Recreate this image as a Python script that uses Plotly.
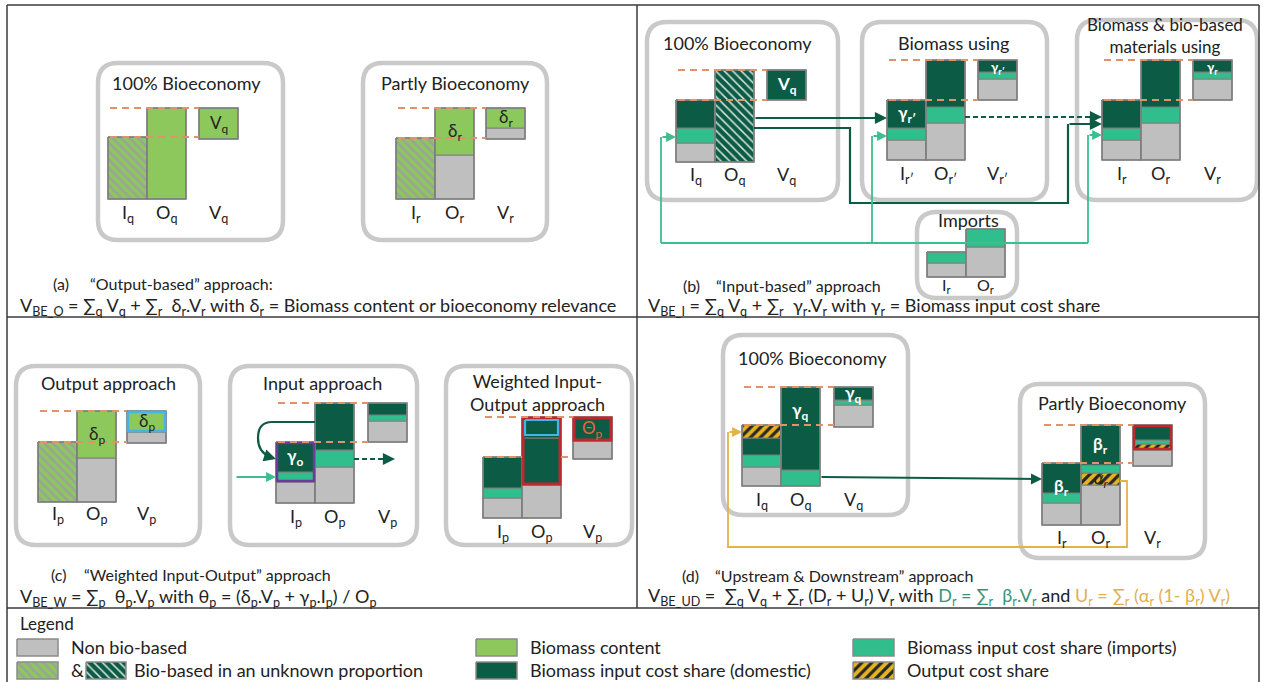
import plotly.graph_objects as go

W, H = 1263, 682
FONT = "Lato"
TXT = "#222222"

# ---------------- colours ----------------
C_GRAY = "#bfbfbf"
C_EDGE = "#7f7f7f"
C_GREEN = "#8dc85c"
C_DARK = "#0c5b44"
C_TEAL = "#30bf8c"
C_YEL = "#e6b41e"
C_DASH = "#e2926a"
C_BOX = "#c9c9c9"
C_FRAME = "#3a3a3a"
C_PURPLE = "#6a3d9a"
C_BLUE = "#45b4e6"
C_RED = "#c1272d"
C_TEAL_LINE = "#3cbf8f"
C_YEL_LINE = "#e2b447"

# ---------------- data: stacked segments (bottom -> top): (category, height) ----------------
# n = non bio-based, g = biomass content, d = input cost share (domestic),
# t = input cost share (imports), y = output cost share, hg/hd = unknown proportion
A1_I = [("hg", 62)]
A1_O = [("g", 91)]
A1_V = [("g", 31)]
A2_I = [("hg", 61)]
A2_O = [("n", 44), ("g", 47)]
A2_V = [("n", 11), ("g", 20)]

B1_I = [("n", 19), ("t", 15), ("d", 28)]
B1_O = [("hd", 92)]
B1_V = [("d", 30)]
B2_I = [("n", 20), ("t", 12), ("d", 28)]
B2_O = [("n", 37), ("t", 16), ("d", 47)]
B2_V = [("n", 21), ("t", 7), ("d", 12)]
B3_I = [("n", 20), ("t", 12), ("d", 28)]
B3_O = [("n", 37), ("t", 16), ("d", 47)]
B3_V = [("n", 21), ("t", 7), ("d", 12)]
IM_I = [("n", 14), ("t", 11)]
IM_O = [("n", 30), ("t", 18)]

C1_I = [("hg", 60)]
C1_O = [("n", 44), ("g", 47)]
C1_V = [("n", 11), ("g", 21)]
C2_I = [("n", 21), ("t", 10), ("d", 30)]
C2_O = [("n", 36), ("t", 17), ("d", 47)]
C2_V = [("n", 21), ("t", 6), ("d", 12)]
C3_I = [("n", 20), ("t", 10), ("d", 31)]
C3_O = [("n", 33), ("d", 47), ("d", 21)]
C3_V = [("n", 18), ("d", 24)]

D1_I = [("n", 19), ("t", 12), ("d", 17), ("y", 13)]
D1_O = [("t", 16), ("d", 83)]
D1_V = [("n", 22), ("t", 5), ("d", 13)]
D2_I = [("n", 22), ("t", 10), ("d", 30)]
D2_O = [("n", 40), ("y", 12), ("t", 8), ("d", 40)]
D2_V = [("n", 16), ("y", 6), ("t", 4), ("d", 15)]

GROUPS = {
    "A1": (A1_I, A1_O, A1_V), "A2": (A2_I, A2_O, A2_V),
    "B1": (B1_I, B1_O, B1_V), "B2": (B2_I, B2_O, B2_V), "B3": (B3_I, B3_O, B3_V),
    "IM": (IM_I, IM_O, None),
    "C1": (C1_I, C1_O, C1_V), "C2": (C2_I, C2_O, C2_V), "C3": (C3_I, C3_O, C3_V),
    "D1": (D1_I, D1_O, D1_V), "D2": (D2_I, D2_O, D2_V),
}
SUBS = {"A1": "q", "A2": "r", "B1": "q", "B2": "r′", "B3": "r", "IM": "r",
        "C1": "p", "C2": "p", "C3": "p", "D1": "q", "D2": "r"}

# ---------------- layout (positions) ----------------
BW = 39
POS = {
    "A1": dict(x0=108, base=199, vx=199, ly=14),
    "A2": dict(x0=396, base=199, vx=486, ly=14),
    "B1": dict(x0=676, base=162, vx=767, ly=13),
    "B2": dict(x0=887, base=160, vx=978, ly=14),
    "B3": dict(x0=1102, base=160, vx=1193, ly=14),
    "IM": dict(x0=927, base=277, vx=None, ly=8),
    "C1": dict(x0=38, base=502, vx=127, ly=12),
    "C2": dict(x0=276, base=503, vx=368, ly=14),
    "C3": dict(x0=483, base=518, vx=573, ly=14),
    "D1": dict(x0=742, base=486, vx=834, ly=14),
    "D2": dict(x0=1042, base=525, vx=1133, ly=13),
}
BOXES = [(98, 63, 283, 240), (363, 63, 547, 240),
         (647, 22, 838, 200), (862, 22, 1047, 200), (1077, 20, 1257, 200), (917, 212, 1017, 298),
         (16, 366, 200, 545), (230, 366, 417, 545), (446, 366, 632, 545),
         (723, 335, 908, 515), (1020, 384, 1205, 558)]

STYLE = {
    "n": dict(fill=C_GRAY),
    "g": dict(fill=C_GREEN),
    "d": dict(fill=C_DARK),
    "t": dict(fill=C_TEAL),
    "hg": dict(pattern="\\", bg=C_GREEN, fg="#9aa496", size=6, sol=0.45),
    "hd": dict(pattern="\\", bg=C_DARK, fg="#dce8e2", size=6, sol=0.25),
    "y": dict(pattern="/", bg=C_YEL, fg="#262626", size=7, sol=0.45),
}

fig = go.Figure()


def rect(x0, x1, y0, y1, cat, edge=C_EDGE, ew=1):
    st = STYLE[cat]
    kw = dict(x=[x0, x1, x1, x0, x0], y=[y0, y0, y1, y1, y0], mode="lines", fill="toself",
              line=dict(color=edge, width=ew), hoverinfo="skip", showlegend=False)
    if "pattern" in st:
        kw["fillcolor"] = st["bg"]
        kw["fillpattern"] = dict(shape=st["pattern"], bgcolor=st["bg"], fgcolor=st["fg"],
                                 size=st["size"], solidity=st["sol"], fillmode="replace")
    else:
        kw["fillcolor"] = st["fill"]
    fig.add_trace(go.Scatter(**kw))


def outline(x0, x1, y0, y1, color, width):
    fig.add_trace(go.Scatter(x=[x0, x1, x1, x0, x0], y=[y0, y0, y1, y1, y0], mode="lines",
                             line=dict(color=color, width=width), hoverinfo="skip", showlegend=False))


def poly(xs, ys, color, width=2, dash=None):
    fig.add_trace(go.Scatter(x=xs, y=ys, mode="lines", line=dict(color=color, width=width, dash=dash),
                             hoverinfo="skip", showlegend=False))


def head(x, y, fx, fy, color, width=2, size=1.1):
    fig.add_annotation(x=x, y=y, ax=fx, ay=fy, xref="x", yref="y", axref="x", ayref="y", text="",
                       showarrow=True, arrowhead=2, arrowsize=size, arrowwidth=width,
                       arrowcolor=color, standoff=0, startstandoff=0)


def text(x, y, s, size=17, color=TXT, xanchor="center", yanchor="middle"):
    fig.add_annotation(x=x, y=y, xref="x", yref="y", text=s, showarrow=False,
                       font=dict(family=FONT, size=size, color=color),
                       xanchor=xanchor, yanchor=yanchor, align="center")


# ---------------- rounded boxes & frame ----------------
def rrect(x0, y0, x1, y1, r=20):
    return (f"M{x0+r},{y0} L{x1-r},{y0} Q{x1},{y0} {x1},{y0+r} L{x1},{y1-r} Q{x1},{y1} {x1-r},{y1} "
            f"L{x0+r},{y1} Q{x0},{y1} {x0},{y1-r} L{x0},{y0+r} Q{x0},{y0} {x0+r},{y0} Z")


shapes = []
for b in BOXES:
    shapes.append(dict(type="path", path=rrect(*b), line=dict(color=C_BOX, width=4.5),
                       fillcolor="white", layer="below"))
for (x0, y0, x1, y1) in [(7, 5, 1259, 5), (7, 5, 7, 682), (1259, 5, 1259, 682),
                         (637, 5, 637, 608), (7, 317, 1259, 317), (7, 608, 1259, 608)]:
    shapes.append(dict(type="line", x0=x0, y0=y0, x1=x1, y1=y1,
                       line=dict(color=C_FRAME, width=1.5), layer="below"))

# ---------------- bars ----------------
GEOM = {}
for key, (I, O, V) in GROUPS.items():
    p = POS[key]
    g = {}
    bars = [("I", p["x0"], I), ("O", p["x0"] + BW, O)]
    for name, bx, segs in bars:
        y = p["base"]
        rects = []
        for cat, h in segs:
            rects.append((bx, bx + BW, y - h, y, cat))
            y -= h
        g[name] = rects
    if V is not None:
        otop = g["O"][-1][2]
        y = otop + sum(h for _, h in V)
        rects = []
        for cat, h in V:
            rects.append((p["vx"], p["vx"] + BW, y - h, y, cat))
            y -= h
        g["V"] = rects
    GEOM[key] = g
    for name, rects in g.items():
        for (x0, x1, y0, y1, cat) in rects:
            rect(x0, x1, y0, y1, cat)
        outline(rects[0][0], rects[0][1], rects[-1][2], rects[0][3], C_EDGE, 1.6)
    # axis labels
    sub = SUBS[key]
    ly = p["base"] + p["ly"]
    for name in g:
        cx = (g[name][0][0] + g[name][0][1]) / 2
        text(cx, ly, f"{name}<sub>{sub}</sub>", size=18 if key != "IM" else 16)


def span(key, bar, i0, i1):
    r = GEOM[key][bar]
    return r[i0][0], r[i0][1], r[i1][2], r[i0][3]


def seg_center(key, bar, i):
    x0, x1, y0, y1, _ = GEOM[key][bar][i]
    return (x0 + x1) / 2, (y0 + y1) / 2


# highlight borders
HIGHLIGHTS = [("C1", "V", 1, 1, C_BLUE, 2.5, 1), ("C2", "I", 1, 2, C_PURPLE, 2.5, 1),
              ("C3", "O", 1, 2, C_RED, 3, 1), ("C3", "O", 2, 2, C_BLUE, 2.2, 3),
              ("C3", "V", 1, 1, C_RED, 3, 1), ("D2", "V", 1, 3, C_RED, 2.5, 1)]
for key, bar, i0, i1, col, w, ins in HIGHLIGHTS:
    x0, x1, y0, y1 = span(key, bar, i0, i1)
    outline(x0 + ins, x1 - ins, y0 + ins, y1 - ins, col, w)

# ---------------- dashed reference lines ----------------
for key, p in POS.items():
    if p["vx"] is None:
        continue
    g = GEOM[key]
    otop = g["O"][-1][2]
    itop = g["I"][-1][2]
    xs = p["x0"] + 2
    poly([xs, p["vx"]], [otop, otop], C_DASH, 2, "7px,5px")
    if key == "C3":
        poly([xs, p["x0"] + BW], [itop, itop], C_DASH, 2, "7px,5px")
        poly([p["x0"] + 2 * BW, p["vx"]], [itop, itop], C_DASH, 2, "7px,5px")
    else:
        poly([xs, p["vx"]], [itop, itop], C_DASH, 2, "7px,5px")

# ---------------- flows panel (b) ----------------
b1o = GEOM["B1"]["O"][0][1]
b2i = GEOM["B2"]["I"][0][0]
b2o = GEOM["B2"]["O"][0][1]
b3i = GEOM["B3"]["I"][0][0]
b1i = GEOM["B1"]["I"][0][0]
head(b2i, 118, b1o, 118, C_DARK, 2.2)
poly([b2o, b3i - 10], [117, 117], C_DARK, 2.2, "5px,3px")
head(b3i, 117, b3i - 12, 117, C_DARK, 2.2)
poly([b1o, 850, 850, 1068, 1068], [128, 128, 203, 203, 124], C_DARK, 2.2)
head(b3i, 124, 1068, 124, C_DARK, 2.2)
poly([661, 1088], [243, 243], C_TEAL_LINE, 1.8)
poly([661, 661], [243, 137], C_TEAL_LINE, 1.8)
head(b1i, 137, 661, 137, C_TEAL_LINE, 1.8)
poly([872, 872], [243, 136], C_TEAL_LINE, 1.8)
head(b2i, 136, 872, 136, C_TEAL_LINE, 1.8)
poly([1088, 1088], [243, 135], C_TEAL_LINE, 1.8)
head(b3i, 135, 1088, 135, C_TEAL_LINE, 1.8)

# ---------------- flows panel (c) ----------------
c2i = GEOM["C2"]["I"][0][0]
c2o = GEOM["C2"]["O"][0][1]
shapes.append(dict(type="path", path=f"M{c2i+39},422 L272,422 Q258,422 258,438 Q258,452 270,457",
                   line=dict(color=C_DARK, width=2.2), layer="above"))
head(c2i, 459, 268, 456.5, C_DARK, 2.2)
head(c2i, 477, 235, 477, C_TEAL_LINE, 1.8)
poly([c2o, 383], [459, 459], C_DARK, 2.2, "5px,3px")
head(395, 459, 382, 459, C_DARK, 2.2)

# ---------------- flows panel (d) ----------------
d1o = GEOM["D1"]["O"][0][1]
d1i = GEOM["D1"]["I"][0][0]
d2i = GEOM["D2"]["I"][0][0]
d2o = GEOM["D2"]["O"][0][1]
head(d2i, 479, d1o, 477, C_DARK, 2)
poly([d2o, 1127, 1127, 728, 728], [481, 481, 547, 547, 432], C_YEL_LINE, 1.8)
head(d1i, 432, 728, 432, C_YEL_LINE, 1.8)

# ---------------- in-bar labels ----------------
INNER = [("A1", "V", 0, "V<sub>q</sub>", TXT, 0, 17), ("A2", "O", 1, "δ<sub>r</sub>", TXT, 0, 17),
         ("A2", "V", 1, "δ<sub>r</sub>", TXT, 0, 17), ("B1", "V", 0, "<b>V<sub>q</sub></b>", "white", 0, 17),
         ("B2", "I", 2, "<b>γ<sub>r′</sub></b>", "white", 0, 17),
         ("B2", "V", 2, "<b>γ<sub>r′</sub></b>", "white", 2, 13),
         ("B3", "V", 2, "<b>γ<sub>r</sub></b>", "white", 2, 13),
         ("C1", "O", 1, "δ<sub>p</sub>", TXT, 0, 17), ("C1", "V", 1, "δ<sub>p</sub>", TXT, 0, 17),
         ("C2", "I", 2, "<b>γ<sub>o</sub></b>", "white", 0, 17), ("C3", "V", 1, "Θ<sub>p</sub>", "#e8643c", 0, 17),
         ("D1", "O", 1, "<b>γ<sub>q</sub></b>", "white", -18, 17),
         ("D1", "V", 2, "<b>γ<sub>q</sub></b>", "white", 0, 17),
         ("D2", "O", 3, "<b>β<sub>r</sub></b>", "white", 0, 17), ("D2", "I", 2, "<b>β<sub>r</sub></b>", "white", 9, 17),
         ("D2", "O", 1, "<i>α<sub>r</sub></i>", TXT, 0, 17)]
for key, bar, i, s, col, dy, fs in INNER:
    cx, cy = seg_center(key, bar, i)
    text(cx, cy + dy, s, size=fs, color=col)

# ---------------- titles ----------------
TITLES = [(186, 83, "100% Bioeconomy", 18), (455, 83, "Partly Bioeconomy", 18),
          (737, 43, "100% Bioeconomy", 18), (953, 43, "Biomass using", 18),
          (1165, 35, "Biomass & bio-based<br>materials using", 17), (968, 220, "Imports", 18),
          (108, 383, "Output approach", 18), (322, 383, "Input approach", 18),
          (537, 392, "Weighted Input-<br>Output approach", 18),
          (812, 358, "100% Bioeconomy", 18), (1112, 403, "Partly Bioeconomy", 18)]
for x, y, s, fs in TITLES:
    text(x, y, s, size=fs)

# ---------------- captions & formulas ----------------
CAPTIONS = [(51, 88, 283, "(a)", "“Output-based” approach:"),
            (681, 714, 285, "(b)", "“Input-based” approach"),
            (49, 82, 574, "(c)", "“Weighted Input-Output” approach"),
            (680, 713, 575, "(d)", "“Upstream & Downstream” approach")]
for xl, xt, y, lab, s in CAPTIONS:
    text(xl, y, lab, size=16, xanchor="left")
    text(xt, y, s, size=16, xanchor="left")

FORMULAS = [
    (18, 306, "V<sub>BE_O</sub> = ∑<sub>q</sub> V<sub>q</sub> + ∑<sub>r</sub>  δ<sub>r</sub>.V<sub>r</sub> with δ<sub>r</sub> = Biomass content or bioeconomy relevance"),
    (646, 306, "V<sub>BE_I</sub> = ∑<sub>q</sub> V<sub>q</sub> + ∑<sub>r</sub>  γ<sub>r</sub>.V<sub>r</sub> with γ<sub>r</sub> = Biomass input cost share"),
    (18, 597, "V<sub>BE_W</sub> = ∑<sub>p</sub>  θ<sub>p</sub>.V<sub>p</sub> with θ<sub>p</sub> = (δ<sub>p</sub>.V<sub>p</sub> + γ<sub>p</sub>.I<sub>p</sub>) / O<sub>p</sub>"),
    (646, 596, "V<sub>BE_UD</sub> =  ∑<sub>q</sub> V<sub>q</sub> + ∑<sub>r</sub> (D<sub>r</sub> + U<sub>r</sub>) V<sub>r</sub> with "
               "<span style='color:#3a9478'>D<sub>r</sub> = ∑<sub>r</sub>  β<sub>r</sub>.V<sub>r</sub></span> and "
               "<span style='color:#e0b050'>U<sub>r</sub> = ∑<sub>r</sub> (α<sub>r</sub> (1- β<sub>r</sub>) V<sub>r</sub>)</span>"),
]
for x, y, s in FORMULAS:
    text(x, y, s, size=18, xanchor="left")

# ---------------- legend ----------------
LEG_COLS = [17, 476, 853]
LEG_ROWS = [639, 662]
LEG_TEXT_Y = [647, 670]
SW_W, SW_H = 41, 17
LEGEND_ITEMS = [(0, 0, "n", "Non bio-based"), (1, 0, "g", "Biomass content"),
                (2, 0, "t", "Biomass input cost share (imports)"),
                (1, 1, "d", "Biomass input cost share (domestic)"), (2, 1, "y", "Output cost share")]
text(18, 623, "Legend", size=17, xanchor="left")
for c, r, cat, s in LEGEND_ITEMS:
    x0 = LEG_COLS[c]
    y0 = LEG_ROWS[r]
    rect(x0, x0 + SW_W, y0, y0 + SW_H, cat, edge="#8a8a8a", ew=1.5)
    text(x0 + SW_W + 11, LEG_TEXT_Y[r], s, size=18, xanchor="left")
rect(17, 58, LEG_ROWS[1], LEG_ROWS[1] + SW_H, "hg", edge="#8a8a8a", ew=1.5)
text(69, LEG_TEXT_Y[1], "&", size=18, xanchor="left")
rect(86, 126, LEG_ROWS[1], LEG_ROWS[1] + SW_H, "hd", edge="#8a8a8a", ew=1.5)
text(132, LEG_TEXT_Y[1], "Bio-based in an unknown proportion", size=18, xanchor="left")

fig.update_layout(
    width=W, height=H, margin=dict(l=0, r=0, t=0, b=0),
    paper_bgcolor="white", plot_bgcolor="white", shapes=shapes, showlegend=False,
    xaxis=dict(range=[0, W], visible=False, fixedrange=True),
    yaxis=dict(range=[H, 0], visible=False, fixedrange=True),
    font=dict(family=FONT, color=TXT),
)
fig.write_html("out.html", config={"displayModeBar": False},
               post_script="document.body.style.margin='0';document.body.style.overflow='hidden';")
